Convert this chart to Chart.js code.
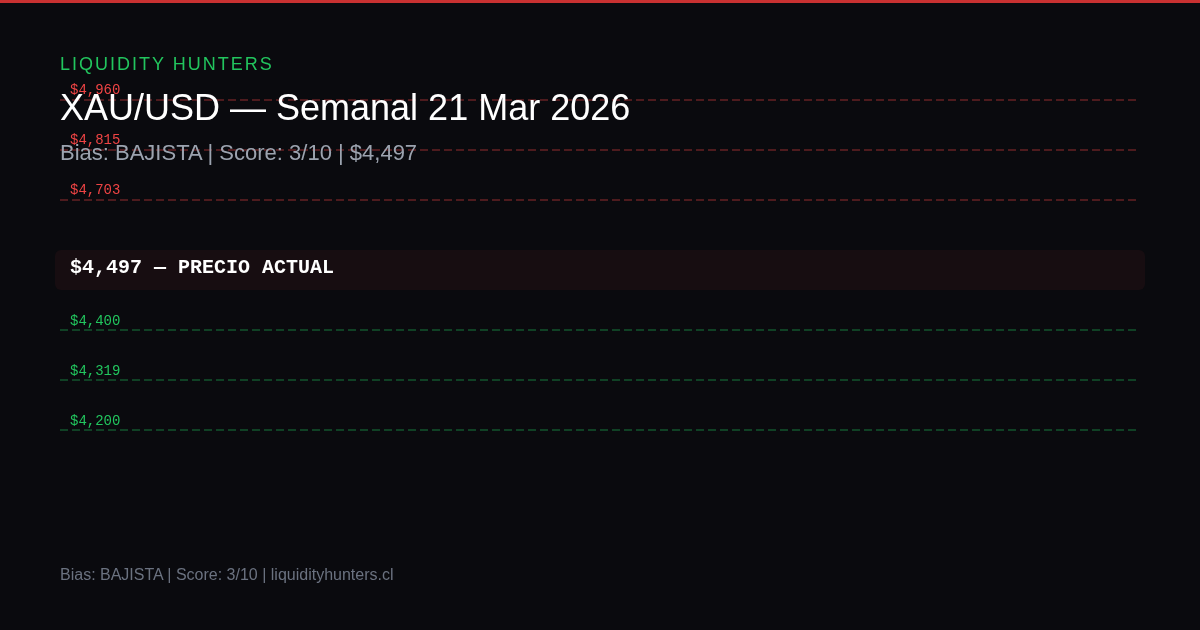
<!DOCTYPE html>
<html lang="es">
<head>
<meta charset="utf-8">
<title>XAU/USD — Semanal 21 Mar 2026</title>
<script src="https://cdn.jsdelivr.net/npm/chart.js@4.4.1/dist/chart.umd.min.js"></script>
<style>
  html, body { margin: 0; padding: 0; }
  body {
    width: 1200px; height: 630px; overflow: hidden; position: relative;
    background: #0a0a0e;
    font-family: 'Liberation Sans', Arial, Helvetica, sans-serif;
  }
  .topbar { position: absolute; left: 0; top: 0; width: 1200px; height: 3px; background: #c93131; z-index: 2; }
  #wrap { position: absolute; left: 0; top: 0; width: 1200px; height: 630px; }
  .txt { position: absolute; left: 60px; margin: 0; line-height: 1; white-space: nowrap; font-weight: normal; z-index: 2; }
  .brand { top: 55px; font-size: 18px; letter-spacing: 2px; color: #22c55e; }
  .title { top: 89.5px; font-size: 36px; color: #ffffff; }
  .sub   { top: 141.5px; font-size: 22px; color: #9ca3af; }
  .foot  { top: 566.5px; font-size: 16px; color: #6b7280; }
</style>
</head>
<body>
<div class="topbar"></div>
<div id="wrap"><canvas id="levels-chart"></canvas></div>
<div class="txt brand">LIQUIDITY HUNTERS</div>
<h1 class="txt title">XAU/USD — Semanal 21 Mar 2026</h1>
<div class="txt sub">Bias: BAJISTA | Score: 3/10 | $4,497</div>
<div class="txt foot">Bias: BAJISTA | Score: 3/10 | liquidityhunters.cl</div>

<script>
  /* ── Level data ── */
  const RESISTANCE = [4960, 4815, 4703];
  const SUPPORT    = [4400, 4319, 4200];
  const PRICE      = [4497];
  const PRICE_TAG  = 'PRECIO ACTUAL';

  (function () {
    'use strict';

    const COLORS = {
      red:      '#ef4444',
      green:    '#22c55e',
      redLine:  'rgba(239, 68, 68, 0.3)',
      greenLine:'rgba(34, 197, 94, 0.3)',
      band:     'rgba(239, 68, 68, 0.06)',
      white:    '#ffffff',
    };
    const MONO = "'Courier New', 'Liberation Mono', monospace";

    function fmt(v) {
      return '$' + v.toLocaleString('en-US');
    }

    /* ── one dashed line per level, left edge to right edge ── */
    function levelSet(values, axisId, color) {
      return values.map(function (v) {
        return {
          label: fmt(v),
          data: [{ x: 0, y: fmt(v) }, { x: 1, y: fmt(v) }],
          yAxisID: axisId,
          borderColor: color,
          borderWidth: 2,
          borderDash: [8, 4],
          pointRadius: 0,
          fill: false,
          tension: 0,
        };
      });
    }

    function levelAxis(labels, weight, order, color, font, offset) {
      return {
        type: 'category',
        labels: labels,
        position: 'left',
        stack: 'levels',
        stackWeight: weight,
        weight: order,
        offset: true,
        grid: { display: false, drawTicks: false },
        border: { display: false },
        ticks: {
          mirror: true,
          padding: 10,
          labelOffset: offset,
          autoSkip: false,
          color: color,
          font: font,
        },
      };
    }

    /* ── current price band ── */
    const priceBand = {
      id: 'priceBand',
      beforeDraw(chart) {
        const { ctx, chartArea, scales } = chart;
        const yc = scales.yPrice.getPixelForValue(0) + 5;
        ctx.save();
        ctx.fillStyle = COLORS.band;
        ctx.beginPath();
        ctx.roundRect(chartArea.left - 5, yc - 20, chartArea.width + 14, 40, 6);
        ctx.fill();
        ctx.restore();
      },
    };

    const ctx = document.getElementById('levels-chart');

    new Chart(ctx, {
      type: 'line',
      data: {
        datasets: []
          .concat(levelSet(RESISTANCE, 'yRes', COLORS.redLine))
          .concat(levelSet(SUPPORT, 'ySup', COLORS.greenLine)),
      },
      options: {
        responsive: true,
        maintainAspectRatio: false,
        animation: false,
        events: [],
        layout: { padding: { left: 40, right: 64, top: 75, bottom: 175 } },
        scales: {
          x: { type: 'linear', min: 0, max: 1, display: false },
          yRes: levelAxis(RESISTANCE.map(fmt), 15, 3, COLORS.red,
            { family: MONO, size: 14 }, -10),
          yPrice: levelAxis(PRICE.map(function (p) { return fmt(p) + ' — ' + PRICE_TAG; }), 8, 2, COLORS.white,
            { family: MONO, size: 20, weight: 'bold' }, 3),
          ySup: levelAxis(SUPPORT.map(fmt), 15, 1, COLORS.green,
            { family: MONO, size: 14 }, -9),
        },
        plugins: {
          legend: { display: false },
          tooltip: { enabled: false },
        },
      },
      plugins: [priceBand],
    });
  })();
</script>
</body>
</html>
